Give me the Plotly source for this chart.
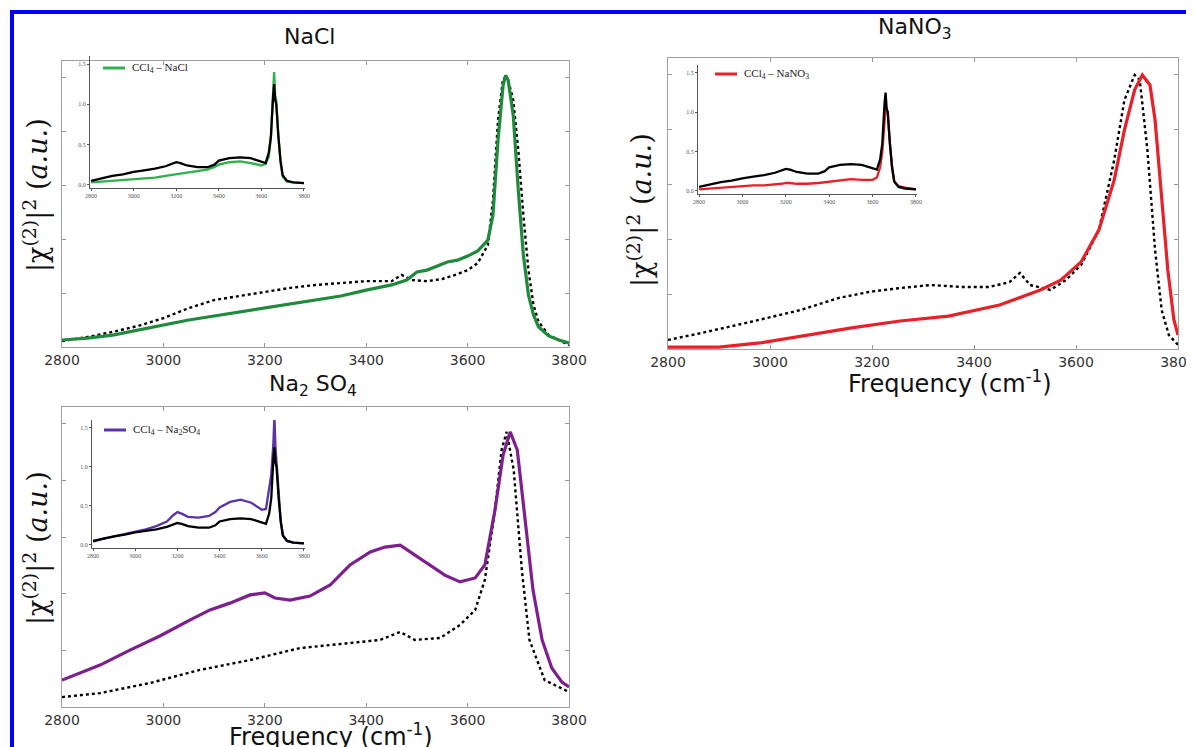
import plotly.graph_objects as go

# the page places the figure 8px from the top-left corner; all layout
# positions below are given in target-picture pixels and shifted by OFF
OFF = 8
W, H = 1194 - OFF, 747 - OFF

# ---------------- data ----------------
# NaCl main panel
nacl_f = [2800, 2850, 2900, 2950, 3000, 3050, 3100, 3150, 3200, 3250, 3300, 3350, 3400, 3450, 3480, 3500, 3520,
          3540, 3560, 3580, 3600, 3620, 3640, 3650, 3660, 3670, 3675, 3680, 3690, 3700, 3710, 3720, 3730, 3740,
          3760, 3780, 3800]
nacl_y = [0.026, 0.033, 0.044, 0.063, 0.081, 0.100, 0.115, 0.130, 0.144, 0.159, 0.174, 0.189, 0.211, 0.230, 0.248,
          0.278, 0.285, 0.300, 0.315, 0.322, 0.337, 0.356, 0.396, 0.489, 0.767, 0.970, 1.007, 0.989, 0.859, 0.581,
          0.341, 0.193, 0.119, 0.074, 0.041, 0.026, 0.015]
nacl_ref_f = [2800, 2850, 2900, 2950, 3000, 3050, 3100, 3150, 3200, 3250, 3300, 3350, 3400, 3450, 3470, 3490, 3520,
              3550, 3580, 3600, 3620, 3640, 3650, 3660, 3670, 3680, 3690, 3700, 3710, 3720, 3730, 3740, 3760, 3780,
              3800]
nacl_ref_y = [0.022, 0.037, 0.056, 0.078, 0.107, 0.144, 0.174, 0.189, 0.204, 0.219, 0.230, 0.237, 0.244, 0.244,
              0.267, 0.248, 0.244, 0.252, 0.270, 0.285, 0.311, 0.378, 0.544, 0.841, 0.996, 0.989, 0.915, 0.730,
              0.489, 0.285, 0.156, 0.093, 0.044, 0.026, 0.007]

# NaNO3 main panel
nano3_f = [2800, 2900, 2980, 3060, 3160, 3255, 3350, 3450, 3490, 3530, 3570, 3610, 3645, 3675, 3695, 3715, 3730,
           3745, 3755, 3768, 3780, 3792, 3800]
nano3_y = [0.007, 0.007, 0.022, 0.047, 0.077, 0.102, 0.120, 0.160, 0.186, 0.215, 0.251, 0.317, 0.434, 0.616, 0.798,
           0.944, 0.998, 0.962, 0.834, 0.543, 0.288, 0.106, 0.051]
nano3_ref_f = [2800, 2865, 2960, 3060, 3135, 3195, 3255, 3315, 3375, 3430, 3470, 3490, 3510, 3550, 3580, 3610, 3645,
               3675, 3695, 3715, 3725, 3740, 3755, 3768, 3782, 3800]
nano3_ref_y = [0.033, 0.058, 0.098, 0.142, 0.186, 0.208, 0.222, 0.233, 0.226, 0.226, 0.244, 0.277, 0.233, 0.215,
               0.251, 0.306, 0.434, 0.689, 0.907, 0.998, 0.980, 0.725, 0.361, 0.142, 0.051, 0.015]

# Na2SO4 main panel
na2so4_f = [2800, 2836, 2875, 2934, 2993, 3052, 3092, 3131, 3171, 3200, 3220, 3250, 3289, 3329, 3368, 3408, 3437,
            3467, 3496, 3526, 3555, 3585, 3615, 3634, 3654, 3670, 3684, 3698, 3713, 3729, 3747, 3766, 3786, 3800]
na2so4_y = [0.095, 0.120, 0.148, 0.201, 0.251, 0.307, 0.343, 0.367, 0.396, 0.403, 0.385, 0.378, 0.392, 0.431, 0.502,
            0.548, 0.565, 0.572, 0.537, 0.498, 0.466, 0.442, 0.456, 0.502, 0.696, 0.890, 0.972, 0.908, 0.661, 0.413,
            0.237, 0.138, 0.088, 0.071]
na2so4_ref_f = [2800, 2875, 2974, 3072, 3171, 3269, 3368, 3427, 3467, 3496, 3546, 3585, 3615, 3634, 3654, 3667, 3677,
                3691, 3707, 3722, 3752, 3800]
na2so4_ref_y = [0.035, 0.049, 0.085, 0.131, 0.166, 0.208, 0.226, 0.237, 0.265, 0.237, 0.244, 0.290, 0.343, 0.449,
                0.696, 0.908, 0.972, 0.837, 0.484, 0.237, 0.095, 0.053]

# insets (shared frequency grid)
inset_f = [2800, 2850, 2900, 2950, 3000, 3050, 3100, 3150, 3180, 3200, 3220, 3250, 3300, 3350, 3380, 3400, 3450,
           3500, 3550, 3580, 3600, 3620, 3635, 3645, 3655, 3660, 3665, 3670, 3680, 3690, 3700, 3720, 3750, 3800]
inset_ref = [0.05, 0.08, 0.11, 0.13, 0.16, 0.18, 0.20, 0.23, 0.26, 0.28, 0.27, 0.24, 0.22, 0.22, 0.25, 0.30, 0.33,
             0.34, 0.33, 0.30, 0.28, 0.27, 0.40, 0.60, 1.10, 1.25, 1.05, 1.00, 0.60, 0.30, 0.12, 0.05, 0.03, 0.02]
inset_nacl = [0.03, 0.04, 0.05, 0.06, 0.07, 0.08, 0.09, 0.11, 0.12, 0.13, 0.14, 0.15, 0.17, 0.19, 0.22, 0.25, 0.28,
              0.29, 0.27, 0.25, 0.24, 0.26, 0.35, 0.60, 1.20, 1.40, 1.10, 1.05, 0.60, 0.28, 0.10, 0.04, 0.03, 0.02]
inset_nano3 = [0.02, 0.03, 0.04, 0.05, 0.06, 0.07, 0.07, 0.08, 0.09, 0.10, 0.10, 0.09, 0.09, 0.10, 0.11, 0.12, 0.14,
               0.15, 0.14, 0.14, 0.14, 0.17, 0.30, 0.50, 0.90, 1.05, 1.00, 1.00, 0.60, 0.30, 0.12, 0.06, 0.04, 0.02]
inset_na2so4 = [0.04, 0.08, 0.11, 0.14, 0.17, 0.20, 0.24, 0.30, 0.38, 0.42, 0.40, 0.36, 0.35, 0.37, 0.42, 0.48, 0.55,
                0.58, 0.54, 0.48, 0.45, 0.46, 0.70, 0.90, 1.30, 1.65, 1.25, 1.05, 0.60, 0.30, 0.12, 0.05, 0.03, 0.02]

x_ticks = [2800, 3000, 3200, 3400, 3600, 3800]
main_y_ticks = [0, 0.2, 0.4, 0.6, 0.8, 1.0]
inset_y_ticks = [0.0, 0.5, 1.0, 1.5]
inset_y_labels = ["0.0", "0.5", "1.0", "1.5"]

titles = ["NaCl", "NaNO<sub>3</sub>", "Na<sub>2</sub> SO<sub>4</sub>"]
legend_texts = ["CCl<sub>4</sub> – NaCl", "CCl<sub>4</sub> – NaNO<sub>3</sub>", "CCl<sub>4</sub> – Na<sub>2</sub>SO<sub>4</sub>"]
ytitle = "|χ<sup>(2)</sup>|<sup>2</sup> (<i>a.u.</i>)"
xtitle = "Frequency (cm<sup>-1</sup>)"

# ---------------- style ----------------
GREEN = "#1f8a3c"
GREEN_IN = "#2db14a"
RED = "#e8202a"
RED_IN = "#e8202a"
PURPLE = "#7d1f8c"
PURPLE_IN = "#5b33a8"


def px(x):
    return (x - OFF) / W


def py(y):
    return 1 - (y - OFF) / H


fig = go.Figure()

# main panels: (axis id, left, right, top, bottom) in target pixels
mains = [
    (1, 62, 569, 61, 347),
    (2, 668, 1178, 58, 349),
    (3, 62, 569, 407, 707),
]
insets = [
    (4, 90, 305, 56, 188),
    (5, 698, 917, 65, 194),
    (6, 92, 305, 420, 548),
]

main_data = [
    (nacl_f, nacl_y, nacl_ref_f, nacl_ref_y, GREEN),
    (nano3_f, nano3_y, nano3_ref_f, nano3_ref_y, RED),
    (na2so4_f, na2so4_y, na2so4_ref_f, na2so4_ref_y, PURPLE),
]
inset_data = [(inset_nacl, GREEN_IN), (inset_nano3, RED_IN), (inset_na2so4, PURPLE_IN)]

layout = {}
for (i, l, r, t, b), (f, y, rf, ry, col) in zip(mains, main_data):
    xa = "x" if i == 1 else f"x{i}"
    ya = "y" if i == 1 else f"y{i}"
    fig.add_trace(go.Scatter(x=rf, y=ry, mode="lines", xaxis=xa, yaxis=ya,
                             line=dict(color="black", width=2.4, dash="dot"), showlegend=False))
    fig.add_trace(go.Scatter(x=f, y=y, mode="lines", xaxis=xa, yaxis=ya,
                             line=dict(color=col, width=3.2), showlegend=False))
    kx = "xaxis" if i == 1 else f"xaxis{i}"
    ky = "yaxis" if i == 1 else f"yaxis{i}"
    layout[kx] = dict(domain=[px(l), px(r)], range=[2800, 3800], anchor=ya,
                      tickvals=x_ticks, ticks="inside", ticklen=4, tickcolor="#999",
                      showline=True, linecolor="#a0a0a0", linewidth=1, mirror="ticks",
                      showgrid=False, zeroline=False, automargin=False, ticklabeloverflow="allow",
                      tickfont=dict(family="DejaVu Sans", size=14, color="#333"))
    layout[ky] = dict(domain=[py(b), py(t)], range=[0, 1.06], anchor=xa,
                      tickvals=main_y_ticks, showticklabels=False, ticks="inside", ticklen=4, tickcolor="#999",
                      showline=True, linecolor="#a0a0a0", linewidth=1, mirror="ticks",
                      showgrid=False, zeroline=False, automargin=False)

for (i, l, r, t, b), (yv, col) in zip(insets, inset_data):
    xa = f"x{i}"
    ya = f"y{i}"
    fig.add_trace(go.Scatter(x=inset_f, y=yv, mode="lines", xaxis=xa, yaxis=ya,
                             line=dict(color=col, width=2.3), showlegend=False))
    fig.add_trace(go.Scatter(x=inset_f, y=inset_ref, mode="lines", xaxis=xa, yaxis=ya,
                             line=dict(color="black", width=2.3), showlegend=False))
    layout[f"xaxis{i}"] = dict(domain=[px(l), px(r)], range=[2795, 3805], anchor=ya,
                               tickvals=x_ticks, ticks="outside", ticklen=2, tickcolor="#555",
                               showline=True, linecolor="#555", linewidth=1, mirror=False,
                               showgrid=False, zeroline=False, automargin=False,
                               tickfont=dict(family="Liberation Serif", size=6, color="#555"))
    layout[f"yaxis{i}"] = dict(domain=[py(b), py(t)], range=[-0.04, 1.6], anchor=xa,
                               tickvals=inset_y_ticks, ticktext=inset_y_labels,
                               ticks="outside", ticklen=2, tickcolor="#555",
                               showline=True, linecolor="#555", linewidth=1, mirror=False,
                               showgrid=False, zeroline=False, automargin=False,
                               tickfont=dict(family="Liberation Serif", size=6, color="#555"))

annotations = []
shapes = []


def label(x, y, text, size, family, angle=0, xanchor="center", color="#111"):
    annotations.append(dict(x=px(x), y=py(y), xref="paper", yref="paper", text=text, showarrow=False,
                            xanchor=xanchor, yanchor="middle", textangle=angle,
                            font=dict(family=family, size=size, color=color)))


# titles
for (tx, ty), txt in zip([(310, 37), (915, 28), (313, 385)], titles):
    label(tx, ty, txt, 22, "DejaVu Sans")
# x titles
for (tx, ty) in [(950, 382), (331, 735)]:
    label(tx, ty, xtitle, 24, "DejaVu Sans")
# y titles
for (tx, ty) in [(36, 195), (640, 210), (36, 548)]:
    label(tx, ty, ytitle, 27, "DejaVu Serif", angle=-90)
# inset legends
for (lx, ly), txt, (yv, col) in zip([(103, 68), (715, 74), (104, 430)], legend_texts, inset_data):
    shapes.append(dict(type="line", xref="paper", yref="paper", x0=px(lx), x1=px(lx + 22), y0=py(ly), y1=py(ly),
                       line=dict(color=col, width=3)))
    label(lx + 27, ly, txt, 11, "Liberation Serif", xanchor="left", color="#222")
# blue frame
shapes.append(dict(type="line", xref="paper", yref="paper", x0=px(10), x1=1, y0=py(12), y1=py(12),
                   line=dict(color="#0000ff", width=4)))
shapes.append(dict(type="line", xref="paper", yref="paper", x0=px(12), x1=px(12), y0=py(10), y1=0,
                   line=dict(color="#0000ff", width=4)))

fig.update_layout(width=W, height=H, margin=dict(l=0, r=0, t=0, b=0, autoexpand=False), paper_bgcolor="white",
                  plot_bgcolor="rgba(0,0,0,0)", showlegend=False, annotations=annotations, shapes=shapes,
                  **layout)

fig.write_html("out.html")
